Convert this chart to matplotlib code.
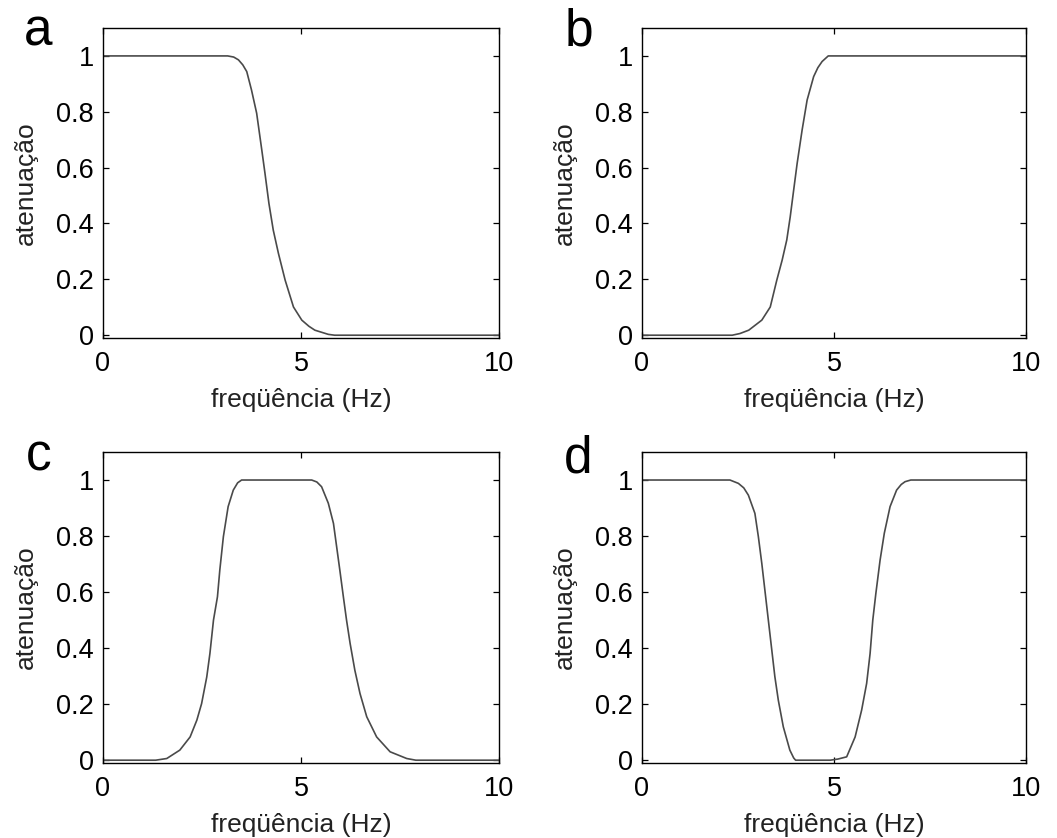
import matplotlib
matplotlib.use("Agg")
import matplotlib.pyplot as plt

plt.rcParams['font.family'] = ['Liberation Sans', 'DejaVu Sans']

# ---- data ----
freq_a = [0, 3.15, 3.30, 3.42, 3.53, 3.63, 3.75, 3.88, 4.01, 4.09, 4.19, 4.30, 4.43, 4.60, 4.81, 5.02, 5.20, 5.35, 5.69, 5.85, 10]
att_a  = [1, 1.0, 0.996, 0.986, 0.968, 0.944, 0.878, 0.795, 0.663, 0.580, 0.472, 0.376, 0.293, 0.197, 0.101, 0.054, 0.032, 0.018, 0.003, 0.0, 0.0]

freq_b = [0, 2.35, 2.55, 2.78, 3.12, 3.34, 3.51, 3.65, 3.77, 3.86, 3.95, 4.04, 4.17, 4.30, 4.47, 4.58, 4.69, 4.85, 10]
att_b  = [0, 0.0, 0.006, 0.018, 0.054, 0.101, 0.197, 0.269, 0.341, 0.424, 0.520, 0.615, 0.735, 0.842, 0.926, 0.958, 0.980, 1.0, 1.0]

freq_c = [0, 1.33, 1.61, 1.94, 2.20, 2.37, 2.49, 2.62, 2.70, 2.79, 2.89, 2.95, 3.04, 3.16, 3.29, 3.40, 3.50,
          5.27, 5.40, 5.52, 5.69, 5.82, 5.90, 5.98, 6.07, 6.15, 6.24, 6.36, 6.49, 6.66, 6.91, 7.25, 7.67, 7.9, 10]
att_c  = [0, 0.0, 0.006, 0.036, 0.083, 0.143, 0.202, 0.297, 0.381, 0.500, 0.583, 0.679, 0.798, 0.905, 0.964, 0.990, 1.0,
          1.0, 0.993, 0.976, 0.917, 0.845, 0.762, 0.679, 0.583, 0.500, 0.417, 0.321, 0.238, 0.155, 0.083, 0.030, 0.006, 0.0, 0.0]

freq_d = [0, 2.29, 2.51, 2.65, 2.77, 2.94, 3.03, 3.12, 3.20, 3.29, 3.38, 3.46, 3.55, 3.68, 3.85, 3.95, 4.0,
          4.9, 5.1, 5.33, 5.55, 5.72, 5.85, 5.94, 6.01, 6.09, 6.20, 6.31, 6.46, 6.63, 6.75, 6.85, 7.0, 10]
att_d  = [1, 1.0, 0.988, 0.972, 0.946, 0.881, 0.798, 0.702, 0.607, 0.500, 0.393, 0.298, 0.214, 0.119, 0.036, 0.008, 0.0,
          0.0, 0.004, 0.012, 0.083, 0.179, 0.274, 0.381, 0.500, 0.595, 0.714, 0.810, 0.905, 0.964, 0.984, 0.994, 1.0, 1.0]

panel_letters = ['a', 'b', 'c', 'd']
x_ticks = [0, 5, 10]
y_ticks = [0, 0.2, 0.4, 0.6, 0.8, 1]
y_tick_labels = ['0', '0.2', '0.4', '0.6', '0.8', '1']
x_label = 'freqüência (Hz)'
y_label = 'atenuação'

W, H = 1057, 838
fig = plt.figure(figsize=(W / 100, H / 100), dpi=100)

def box(l, t, r, b):
    return [l / W, 1 - b / H, (r - l) / W, (b - t) / H]

rects = [box(103, 28, 499, 338), box(642, 28, 1026, 338),
         box(103, 452, 499, 763), box(642, 452, 1026, 763)]
series = [(freq_a, att_a), (freq_b, att_b), (freq_c, att_c), (freq_d, att_d)]
letter_pos = [(24, 45), (565, 45), (26, 470), (564, 472)]

for rect, (fx, fy), letter, (lx, ly) in zip(rects, series, panel_letters, letter_pos):
    ax = fig.add_axes(rect)
    ax.plot(fx, fy, color='#4a4a4a', lw=1.2)
    ax.set_xlim(0, 10)
    ax.set_ylim(-0.01, 1.1)
    ax.set_xticks(x_ticks)
    ax.set_xticklabels([str(t) for t in x_ticks])
    ax.set_yticks(y_ticks)
    ax.set_yticklabels(y_tick_labels)
    ax.tick_params(direction='in', length=4, width=0.9, top=True, right=True,
                   labelsize=19.5, colors='black')
    ax.tick_params(axis='x', pad=9)
    ax.tick_params(axis='y', pad=6.5)
    for s in ax.spines.values():
        s.set_linewidth(1.0)
        s.set_color('black')
    ax.set_xlabel(x_label, fontsize=19, labelpad=8.5, color='#222222')
    ax.set_ylabel(y_label, fontsize=19, labelpad=13, color='#222222')
    fig.text(lx / W, 1 - ly / H, letter, fontsize=37, va='baseline', ha='left')

fig.savefig('out.png', dpi=100)
